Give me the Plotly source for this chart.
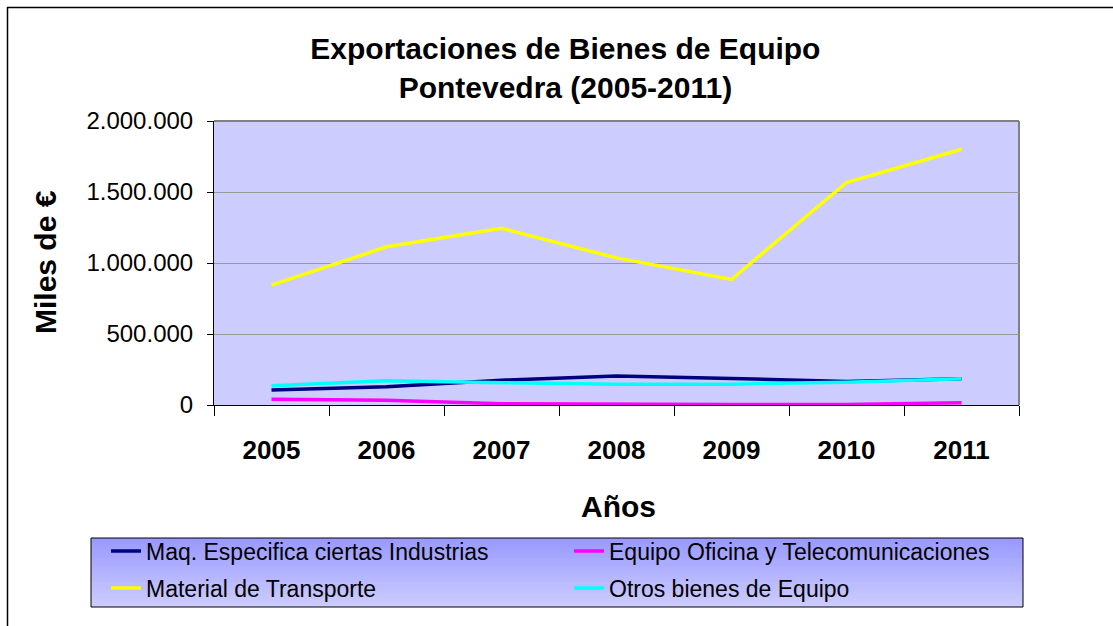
import plotly.graph_objects as go

years = ["2005", "2006", "2007", "2008", "2009", "2010", "2011"]
maq_industrias = [105000, 128000, 175000, 204000, 187000, 166000, 185000]
equipo_oficina = [40000, 33000, 9000, 4000, 3000, 4000, 16000]
material_transporte = [844000, 1114000, 1244000, 1036000, 884000, 1567000, 1801000]
otros_bienes = [135000, 171000, 157000, 147000, 147000, 161000, 185000]

series = [
    ("Maq. Especifica ciertas Industrias", maq_industrias, "#000080", "legend"),
    ("Equipo Oficina y Telecomunicaciones", equipo_oficina, "#FF00FF", "legend"),
    ("Material de Transporte", material_transporte, "#FFFF00", "legend2"),
    ("Otros bienes de Equipo", otros_bienes, "#00FFFF", "legend2"),
]

W, H = 1113, 626
L, R, T, B = 214, 1019, 121, 405
PW, PH = R - L, B - T


def px(x):
    return (x - L) / PW


def py(y):
    return (B - y) / PH


fig = go.Figure()
for name, vals, color, leg in series:
    fig.add_trace(go.Scatter(x=years, y=vals, name=name, mode="lines", legend=leg,
                             line=dict(color=color, width=3.5)))

shapes = []
# legend gradient background
lx0, lx1, ly0, ly1 = 91, 1023, 538, 607
n = 35
for i in range(n):
    t = i / (n - 1)
    r = int(round(0x99 + (0xcc - 0x99) * t))
    col = f"rgb({r},{r},255)"
    y0 = ly0 + (ly1 - ly0) * i / n
    y1 = ly0 + (ly1 - ly0) * (i + 1) / n + 1
    y1 = min(y1, ly1)
    shapes.append(dict(type="rect", xref="paper", yref="paper",
                       x0=px(lx0), x1=px(lx1), y0=py(y0), y1=py(y1),
                       fillcolor=col, line=dict(width=0), layer="above"))
shapes.append(dict(type="rect", xref="paper", yref="paper",
                   x0=px(lx0), x1=px(lx1), y0=py(ly0), y1=py(ly1),
                   line=dict(color="black", width=1), layer="above"))
# plot-area top/right gray border
shapes.append(dict(type="line", xref="paper", yref="paper", x0=0, x1=1, y0=1, y1=1,
                   line=dict(color="#808080", width=2), layer="below"))
shapes.append(dict(type="line", xref="paper", yref="paper", x0=1, x1=1, y0=0, y1=1,
                   line=dict(color="#808080", width=2), layer="below"))
# outer chart border (top and left)
shapes.append(dict(type="line", xref="paper", yref="paper", x0=px(7), x1=px(1113), y0=py(7.5), y1=py(7.5),
                   line=dict(color="black", width=1.5), layer="above"))
shapes.append(dict(type="line", xref="paper", yref="paper", x0=px(7.5), x1=px(7.5), y0=py(7), y1=py(626),
                   line=dict(color="black", width=1.5), layer="above"))

font = "Liberation Sans, Arial, sans-serif"
legend_common = dict(orientation="h", x=px(106), xanchor="left", yanchor="middle",
                     bgcolor="rgba(0,0,0,0)", borderwidth=0, entrywidth=418,
                     entrywidthmode="pixels", font=dict(size=23, family=font),
                     traceorder="normal")

fig.update_layout(
    width=W, height=H,
    margin=dict(l=L, r=W - R, t=T, b=H - B, autoexpand=False),
    paper_bgcolor="white",
    plot_bgcolor="#CCCCFF",
    separators=",.",
    font=dict(family=font, color="black"),
    title=dict(text="<b>Exportaciones de Bienes de Equipo<br>Pontevedra (2005-2011)</b>",
               x=0.508, xref="container", xanchor="center",
               y=1 - 59 / H, yref="container", yanchor="middle",
               font=dict(size=30, family=font)),
    xaxis=dict(type="category", tickson="boundaries", ticks="outside", ticklen=10,
               tickcolor="black", tickwidth=1, showline=True, linecolor="black", linewidth=1,
               showgrid=False, tickfont=dict(size=26, family=font, weight="bold"),
               ticklabelstandoff=22,
               range=[-0.5, 6.5], automargin=False),
    yaxis=dict(range=[0, 2000000], tickvals=[0, 500000, 1000000, 1500000, 2000000],
               tickformat=",d", ticks="outside", ticklen=6, tickcolor="black",
               showline=True, linecolor="black", linewidth=1,
               showgrid=True, gridcolor="#999999", gridwidth=1, zeroline=False,
               ticklabelstandoff=9,
               tickfont=dict(size=24, family=font), automargin=False),
    showlegend=True,
    legend=dict(y=py(551), **legend_common),
    legend2=dict(y=py(588), **legend_common),
    shapes=shapes,
    annotations=[
        dict(text="<b>Miles de €</b>", xref="paper", yref="paper", x=px(45), y=py(262),
             showarrow=False, textangle=-90, font=dict(size=30, family=font),
             xanchor="center", yanchor="middle"),
        dict(text="<b>Años</b>", xref="paper", yref="paper", x=px(618), y=py(506),
             showarrow=False, font=dict(size=30, family=font),
             xanchor="center", yanchor="middle"),
    ],
)

fig.write_html("out.html", config={"displayModeBar": False},
               post_script="document.body.style.margin='0';")
